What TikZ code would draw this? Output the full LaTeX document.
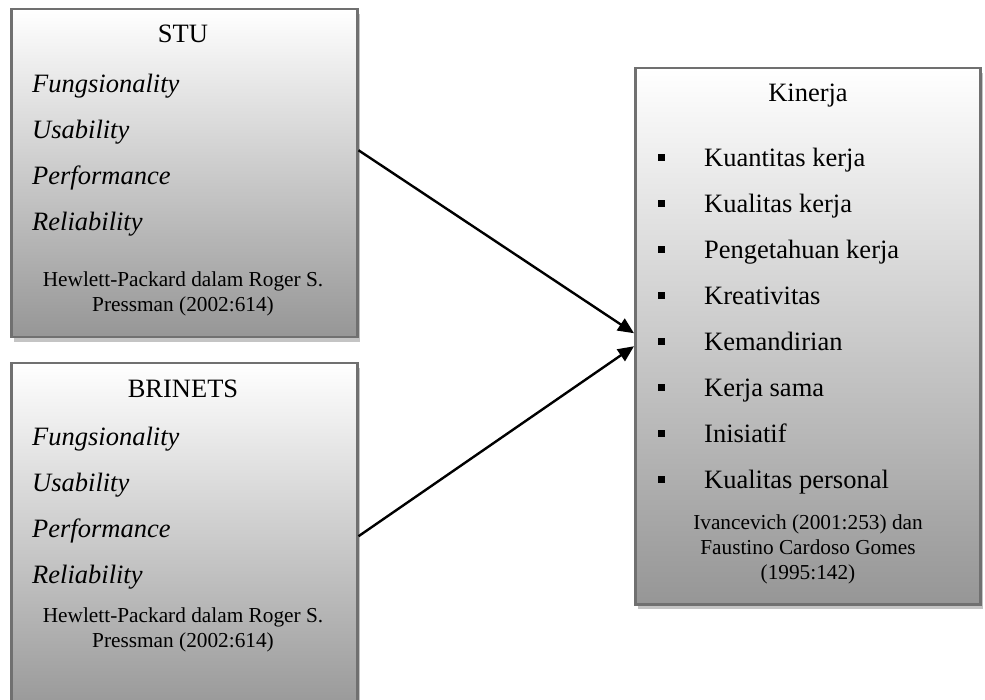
\documentclass[tikz,border=0pt]{standalone}
\usepackage{fontspec}
\setmainfont{Liberation Serif}
\usetikzlibrary{shadows,arrows.meta}
\definecolor{boxline}{RGB}{112,112,112}
\definecolor{boxshadow}{RGB}{196,196,196}
\definecolor{gradbot}{RGB}{150,150,150}
\tikzset{
  panel/.style={draw=boxline, line width=2.5pt, top color=white, bottom color=gradbot,
    anchor=north west, inner sep=0pt,
    drop shadow={shadow xshift=3pt, shadow yshift=-5pt, fill=boxshadow, opacity=1}},
  bigtxt/.style={font=\fontsize{26.5}{30}\selectfont, inner sep=0pt},
  ittxt/.style={font=\fontsize{26.5}{30}\selectfont\itshape, inner sep=0pt, anchor=base west},
  itemtxt/.style={font=\fontsize{26.5}{30}\selectfont, inner sep=0pt, anchor=base west},
  citetxt/.style={font=\fontsize{21.3}{25}\selectfont, inner sep=0pt, anchor=base, align=center},
  bulletsq/.style={fill=black, minimum size=7pt, inner sep=0pt},
  link/.style={line width=2.4pt, -{Triangle[length=16pt,width=14pt]}}
}
\begin{document}
\begin{tikzpicture}[x=1pt,y=-1pt]
\useasboundingbox (0,0) rectangle (985,700);
\clip (0,0) rectangle (985,700);
% boxes
\node[panel, minimum width=346pt, minimum height=328pt] (stu) at (10,8) {};
\node[panel, minimum width=346pt, minimum height=353pt] (bri) at (10,362) {};
\node[panel, minimum width=345pt, minimum height=536pt] (kin) at (634,67) {};
% STU
\node[bigtxt, anchor=base] (stut) at (183,43) {STU};
\node[ittxt] (s1) at (32,93) {Fungsionality};
\node[ittxt] (s2) at (32,139) {Usability};
\node[ittxt] (s3) at (32,185) {Performance};
\node[ittxt] (s4) at (32,231) {Reliability};
\node[citetxt] (sc1) at (183,287) {Hewlett-Packard dalam Roger S.};
\node[citetxt] (sc2) at (183,312) {Pressman (2002:614)};
% BRINETS
\node[bigtxt, anchor=base] (brit) at (183,397) {BRINETS};
\node[ittxt] (b1) at (32,445) {Fungsionality};
\node[ittxt] (b2) at (32,491) {Usability};
\node[ittxt] (b3) at (32,537) {Performance};
\node[ittxt] (b4) at (32,583) {Reliability};
\node[citetxt] (bc1) at (183,622) {Hewlett-Packard dalam Roger S.};
\node[citetxt] (bc2) at (183,647) {Pressman (2002:614)};
% Kinerja
\node[bigtxt, anchor=base] (kint) at (808,102) {Kinerja};
\foreach \t [count=\i from 0] in {Kuantitas kerja, Kualitas kerja, Pengetahuan kerja, Kreativitas, Kemandirian, Kerja sama, Inisiatif, Kualitas personal}{
  \node[itemtxt] (k\i) at (704,167+45.86*\i) {\t};
  \node[bulletsq] (q\i) at (661,158+45.86*\i) {};
}
\node[citetxt] (kc1) at (808,529) {Ivancevich (2001:253) dan};
\node[citetxt] (kc2) at (808,554) {Faustino Cardoso Gomes};
\node[citetxt] (kc3) at (808,579) {(1995:142)};
% arrows
\draw[link] ([yshift=23pt]stu.east) -- ([yshift=3pt]kin.west);
\draw[link] ([yshift=3.5pt]bri.east) -- ([yshift=-10pt]kin.west);
\end{tikzpicture}
\end{document}
